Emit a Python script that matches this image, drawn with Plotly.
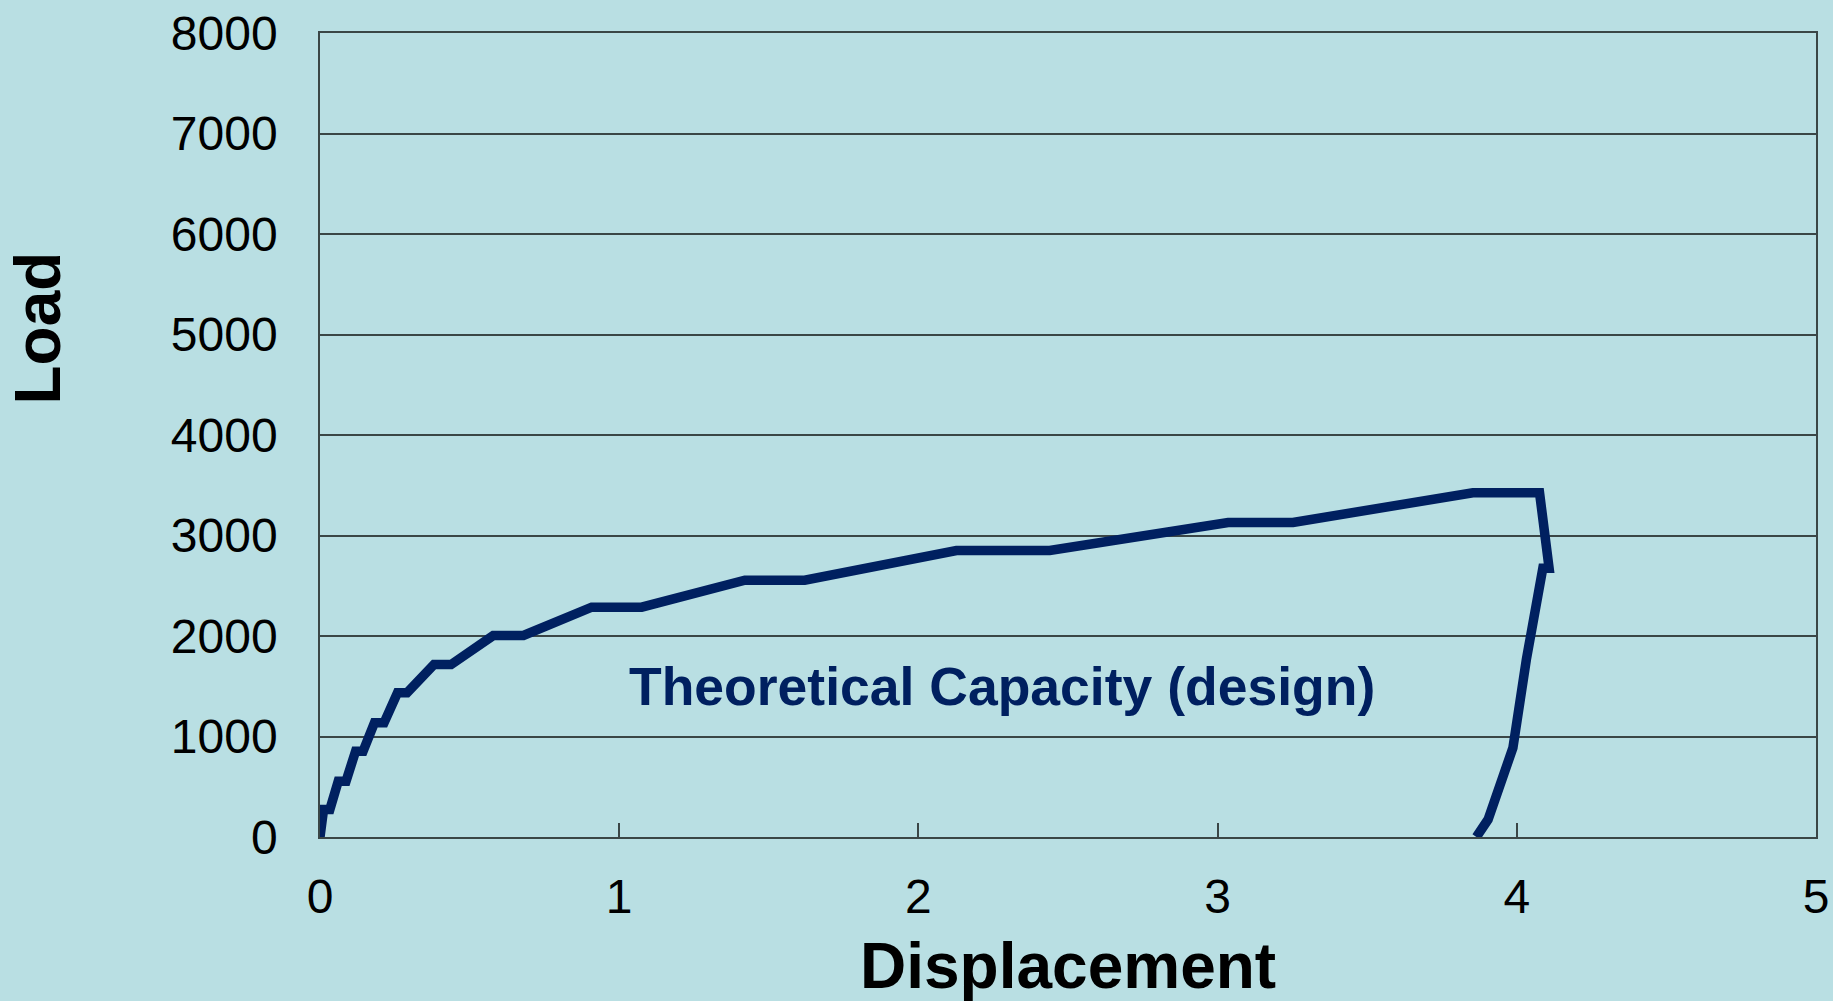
import plotly.graph_objects as go

# Load-displacement response: loading steps, peak plateau, then unloading
displacement = [0, 0.012, 0.033, 0.061, 0.087, 0.119, 0.144, 0.182, 0.214,
                0.259, 0.291, 0.381, 0.438, 0.579, 0.680, 0.908, 1.075,
                1.420, 1.620, 2.127, 2.439, 3.035, 3.252, 3.853, 4.076,
                4.108, 4.087, 4.032, 3.987, 3.904, 3.865]
load = [0, 274, 274, 555, 555, 854, 854, 1136, 1136,
        1435, 1435, 1716, 1716, 2005, 2005, 2287, 2287,
        2555, 2555, 2851, 2851, 3130, 3130, 3425, 3425,
        2675, 2675, 1766, 887, 174, 0]

x_ticks = [0, 1, 2, 3, 4, 5]
y_ticks = [0, 1000, 2000, 3000, 4000, 5000, 6000, 7000, 8000]

BG = "#B9DFE3"
NAVY = "#002060"
GRID = "#3A4646"
FONT = "Liberation Sans, Arial, sans-serif"

fig = go.Figure()
fig.add_trace(go.Scatter(
    x=displacement, y=load, mode="lines",
    line=dict(color=NAVY, width=9.5, shape="linear"),
    showlegend=False, hoverinfo="skip",
))

fig.update_layout(
    width=1833, height=1001,
    paper_bgcolor=BG, plot_bgcolor=BG,
    margin=dict(l=320, r=17, t=33, b=164, autoexpand=False),
    showlegend=False,
)

fig.update_xaxes(
    range=[0, 5], tickvals=x_ticks, ticktext=[str(v) for v in x_ticks],
    showgrid=False, zeroline=False, automargin=False,
    showline=True, linecolor=GRID, linewidth=1.5, mirror=True,
    ticks="inside", ticklen=14, tickwidth=1.5, tickcolor=GRID,
    tickfont=dict(family=FONT, size=48, color="black"),
    ticklabelstandoff=17,
)
fig.update_yaxes(
    range=[0, 8000], tickvals=y_ticks, ticktext=[str(v) for v in y_ticks],
    showgrid=True, gridcolor=GRID, gridwidth=1.5, zeroline=False,
    automargin=False,
    showline=True, linecolor=GRID, linewidth=1.5, mirror=True,
    ticks="", tickfont=dict(family=FONT, size=48, color="black"),
    ticklabelstandoff=31,
)

# Axis titles
fig.add_annotation(
    text="<b>Load</b>", xref="paper", yref="paper",
    x=-0.1885, y=0.6325, xanchor="center", yanchor="middle",
    textangle=-90, showarrow=False,
    font=dict(family=FONT, size=64, color="black"),
)
fig.add_annotation(
    text="<b>Displacement</b>", xref="paper", yref="paper",
    x=0.5, y=-0.161, xanchor="center", yanchor="middle",
    showarrow=False,
    font=dict(family=FONT, size=64, color="black"),
)

# Curve label
fig.add_annotation(
    text="<b>Theoretical Capacity (design)</b>", xref="x", yref="y",
    x=2.28, y=1502, xanchor="center", yanchor="middle",
    showarrow=False,
    font=dict(family=FONT, size=53.5, color=NAVY),
)

fig.write_html("out.html")
